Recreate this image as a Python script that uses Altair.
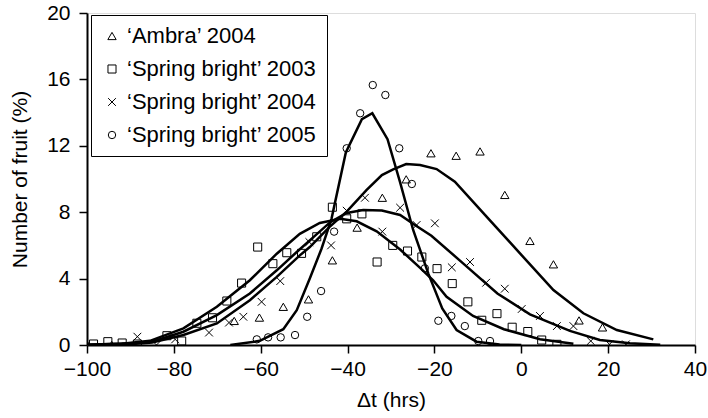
import altair as alt
import pandas as pd

SERIES = ["\u2018Ambra\u2019 2004", "\u2018Spring bright\u2019 2003",
          "\u2018Spring bright\u2019 2004", "\u2018Spring bright\u2019 2005"]

# observed values: hours relative to reference (dt) and % of fruit
ambra_dt = [-100, -94.3, -66.1, -60.3, -54.8, -49.0, -43.5, -37.8, -32.0, -26.5,
            -20.8, -15.0, -9.5, -3.8, 2.0, 7.4, 13.3, 18.7]
ambra_pct = [0.05, 0.0, 1.45, 1.65, 2.3, 2.75, 5.1, 7.07, 8.87, 9.98,
             11.55, 11.4, 11.66, 9.04, 6.27, 4.86, 1.48, 1.06]

sb03_dt = [-98.5, -95.2, -91.9, -88.4, -81.6, -78.2, -74.7, -71.1, -67.8, -64.4,
           -60.7, -57.2, -54.0, -50.6, -47.1, -43.5, -40.2, -36.7, -33.2, -29.6,
           -26.2, -22.9, -19.4, -15.9, -12.3, -9.1, -5.6, -2.1, 1.5, 4.7, 8.2]
sb03_pct = [0.06, 0.2, 0.12, 0.06, 0.56, 0.24, 1.31, 1.64, 2.65, 3.73,
            5.9, 4.9, 5.56, 5.52, 6.52, 8.3, 7.6, 7.9, 5.0, 6.0,
            5.66, 5.3, 4.6, 3.7, 2.6, 1.49, 1.89, 1.07, 0.81, 0.3, 0.04]

sb04_dt = [-88.4, -84.0, -79.7, -71.9, -67.3, -64.0, -59.8, -55.5, -48.8, -43.8,
           -40.2, -36.0, -32.0, -27.9, -24.1, -19.9, -16.0, -11.8, -8.1, -3.8,
           0.1, 4.3, 8.2, 12.0, 16.0, 20.3, 24.1]
sb04_pct = [0.5, 0.0, 0.34, 0.75, 1.35, 1.7, 2.6, 3.85, 6.2, 6.0,
            8.09, 8.87, 6.83, 8.27, 7.23, 7.33, 4.68, 5.0, 3.75, 3.39,
            2.17, 1.75, 1.14, 1.14, 0.24, 0.04, 0.04]

sb05_dt = [-60.9, -58.3, -55.4, -52.1, -49.3, -46.1, -43.1, -40.2, -37.1, -34.2,
           -31.3, -28.1, -25.2, -22.2, -19.1, -16.1, -13.0, -9.9, -7.2]
sb05_pct = [0.34, 0.46, 0.46, 0.6, 1.7, 3.25, 6.83, 11.85, 13.96, 15.66,
            15.06, 11.85, 9.7, 4.62, 1.46, 1.75, 1.14, 0.24, 0.24]

# fitted curves
ambra_fit_dt = [-100, -90, -85, -77.8, -70.1, -62.5, -56.3, -51, -48.7, -44.2,
                -40.2, -35.6, -32.1, -29.5, -26.5, -23.3, -19.5, -15.3, -8,
                -0.3, 7.4, 14.3, 22, 30.4]
ambra_fit_pct = [0.0, 0.05, 0.15, 0.6, 1.3, 2.7, 4.1, 5.4, 5.9, 7.1,
                 8.03, 9.34, 10.24, 10.58, 10.9, 10.84, 10.6, 9.84, 7.73,
                 5.52, 3.31, 1.91, 0.9, 0.34]

sb03_fit_dt = [-100, -92, -85.5, -77.8, -70.1, -62.5, -56.3, -51, -46.4, -41.7,
               -37.9, -33.3, -27.9, -23.3, -20.3, -17.2, -11.1, -4.0, 4.3, 12]
sb03_fit_pct = [0.02, 0.08, 0.25, 1.0, 2.3, 3.9, 5.5, 6.7, 7.35, 7.6,
                7.45, 6.85, 5.75, 4.65, 3.9, 2.9, 1.75, 0.95, 0.35, 0.08]

sb04_fit_dt = [-100, -90, -85, -77.8, -70.1, -62.5, -56.3, -51.7, -48.7, -44,
               -40.2, -36.4, -32.1, -27.9, -24.5, -20.7, -13.4, -5.5, 2, 11.2,
               18.1, 25, 32]
sb04_fit_pct = [0.01, 0.1, 0.2, 0.8, 1.8, 3.1, 4.5, 5.6, 6.3, 7.4,
                7.95, 8.13, 8.1, 7.83, 7.23, 6.58, 4.92, 3.1, 1.85, 0.85,
                0.3, 0.1, 0.02]

sb05_fit_dt = [-67, -60.2, -54.8, -51.7, -48.7, -46, -43.7, -40.4, -36.7, -34.3,
               -30.8, -27.9, -24.9, -21.4, -18.2, -14.9, -10.3, -5, 0]
sb05_fit_pct = [0.0, 0.25, 0.95, 2.1, 4.0, 5.8, 7.6, 11.6, 13.6, 13.96,
                12.4, 9.8, 6.93, 4.3, 2.2, 0.9, 0.2, 0.03, 0.0]

X_TICKS = [-100, -80, -60, -40, -20, 0, 20, 40]
Y_TICKS = [0, 4, 8, 12, 16, 20]

CROSS = "M-1,-1L1,1M-1,1L1,-1"
SHAPES = ["triangle-up", "square", CROSS, "circle"]
SIZES = [70, 55, 105, 100]

obs = [(ambra_dt, ambra_pct), (sb03_dt, sb03_pct), (sb04_dt, sb04_pct), (sb05_dt, sb05_pct)]
fit = [(ambra_fit_dt, ambra_fit_pct), (sb03_fit_dt, sb03_fit_pct),
       (sb04_fit_dt, sb04_fit_pct), (sb05_fit_dt, sb05_fit_pct)]

points = pd.concat([pd.DataFrame({"series": s, "dt": d, "pct": p})
                    for s, (d, p) in zip(SERIES, obs)], ignore_index=True)
curves = pd.concat([pd.DataFrame({"series": s, "dt": d, "pct": p, "order": range(len(d))})
                    for s, (d, p) in zip(SERIES, fit)], ignore_index=True)

FONT = "Liberation Sans"

x_enc = alt.X("dt:Q", scale=alt.Scale(domain=[-100, 40], nice=False, zero=False),
              axis=alt.Axis(values=X_TICKS, title="\u0394t (hrs)", grid=False,
                            tickSize=8, labelPadding=5, titlePadding=10,
                            labelFontSize=21, titleFontSize=21,
                            labelFont=FONT, titleFont=FONT, labelColor="black",
                            titleColor="black", titleFontWeight="normal",
                            domainColor="black", tickColor="black",
                            domainWidth=2, tickWidth=1.5, labelFlush=False))
y_enc = alt.Y("pct:Q", scale=alt.Scale(domain=[0, 20], nice=False),
              axis=alt.Axis(values=Y_TICKS, title="Number of fruit (%)", grid=False,
                            tickSize=8, labelPadding=9, titlePadding=16,
                            labelFontSize=21, titleFontSize=21,
                            labelFont=FONT, titleFont=FONT, labelColor="black",
                            titleColor="black", titleFontWeight="normal",
                            domainColor="black", tickColor="black",
                            domainWidth=2, tickWidth=1.5, labelFlush=False))

lines = alt.Chart(curves).mark_line(color="black", strokeWidth=2.5, clip=True).encode(
    x=x_enc, y=y_enc, detail="series:N", order="order:Q")

legend = alt.Legend(title=None, orient="none", legendX=4, legendY=2,
                    strokeColor="black", fillColor="white",
                    padding=10, rowPadding=11, labelFontSize=22, labelFont=FONT,
                    labelColor="black", labelOffset=4, labelLimit=400,
                    symbolStrokeColor="black", symbolStrokeWidth=1,
                    symbolFillColor="transparent", symbolOpacity=1)

pts = alt.Chart(points).mark_point(filled=False, color="black", strokeWidth=1,
                                   opacity=1, clip=True).encode(
    x=x_enc, y=y_enc,
    shape=alt.Shape("series:N", scale=alt.Scale(domain=SERIES, range=SHAPES), legend=legend),
    size=alt.Size("series:N", scale=alt.Scale(domain=SERIES, range=SIZES), legend=legend),
)

chart = alt.layer(lines, pts).properties(
    width=608, height=332,
    padding={"left": 87, "top": 13, "right": 13, "bottom": 73},
    autosize=alt.AutoSizeParams(type="none"),
).configure_view(stroke="black", strokeWidth=1.5).configure_legend(
    strokeWidth=1
).configure(background="white")

chart.save("out.html", embed_options={"renderer": "svg", "actions": False})
